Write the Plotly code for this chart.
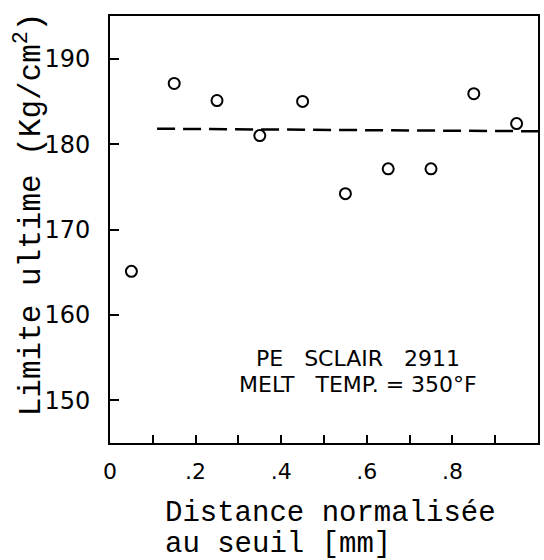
import plotly.graph_objects as go

# ---- data ----
distance = [0.05, 0.15, 0.25, 0.35, 0.45, 0.55, 0.65, 0.75, 0.85, 0.95]
limite = [165.1, 187.1, 185.1, 181.0, 185.0, 174.2, 177.1, 177.1, 185.9, 182.4]

mean_x = [0.11, 1.0]
mean_y = [181.8, 181.5]

x_tickvals = [0, 0.1, 0.2, 0.3, 0.4, 0.5, 0.6, 0.7, 0.8, 0.9]
x_ticktext = ["0", "", ".2", "", ".4", "", ".6", "", ".8", ""]
y_tickvals = [150, 160, 170, 180, 190]
y_ticktext = ["150", "160", "170", "180", "190"]

x_title_1 = "Distance normalisée"
x_title_2 = "au seuil [mm]"
y_title = "Limite ultime (Kg/cm<sup>2</sup>)"
note_1 = "PE\u00a0\u00a0\u00a0SCLAIR\u00a0\u00a0\u00a02911"
note_2 = "MELT\u00a0\u00a0\u00a0TEMP.\u00a0=\u00a0350°F"

MONO = "Liberation Mono, Courier New, monospace"
SANS = "DejaVu Sans, sans-serif"

fig = go.Figure()
fig.add_trace(go.Scatter(
    x=mean_x, y=mean_y, mode="lines",
    line=dict(color="black", width=2.5, dash="18px,8px"),
    showlegend=False, hoverinfo="skip"))
fig.add_trace(go.Scatter(
    x=distance, y=limite, mode="markers",
    marker=dict(symbol="circle-open", size=11, color="black",
                line=dict(width=2, color="black")),
    showlegend=False))

fig.update_layout(
    width=544, height=560,
    margin=dict(l=110, r=4, t=16, b=117),
    paper_bgcolor="white", plot_bgcolor="white",
    xaxis=dict(range=[0, 1.0], tickvals=x_tickvals, ticktext=x_ticktext,
               ticks="inside", ticklen=8, tickwidth=2, tickcolor="black",
               showline=True, mirror=True, linewidth=2, linecolor="black",
               showgrid=False, zeroline=False, ticklabelstandoff=8,
               tickfont=dict(family=SANS, size=22, color="black")),
    yaxis=dict(range=[145, 195], tickvals=y_tickvals, ticktext=y_ticktext,
               ticks="inside", ticklen=9, tickwidth=2, tickcolor="black",
               showline=True, mirror=True, linewidth=2, linecolor="black",
               showgrid=False, zeroline=False, ticklabelstandoff=13,
               tickfont=dict(family=SANS, size=24, color="black")),
    annotations=[
        dict(text=x_title_1, xref="paper", yref="paper", x=0.123, y=-0.166,
             xanchor="left", yanchor="middle", showarrow=False,
             font=dict(family=MONO, size=29, color="black")),
        dict(text=x_title_2, xref="paper", yref="paper", x=0.123, y=-0.238,
             xanchor="left", yanchor="middle", showarrow=False,
             font=dict(family=MONO, size=29, color="black")),
        dict(text=y_title, xref="paper", yref="paper", x=-0.19, y=0.535,
             xanchor="center", yanchor="middle", textangle=-90,
             showarrow=False,
             font=dict(family=MONO, size=31, color="black")),
        dict(text=note_1, xref="x", yref="y", x=0.58, y=154.9,
             showarrow=False, xanchor="center", yanchor="middle",
             font=dict(family=SANS, size=22, color="black")),
        dict(text=note_2, xref="x", yref="y", x=0.58, y=151.9,
             showarrow=False, xanchor="center", yanchor="middle",
             font=dict(family=SANS, size=22, color="black")),
    ],
)

fig.write_html("out.html")
